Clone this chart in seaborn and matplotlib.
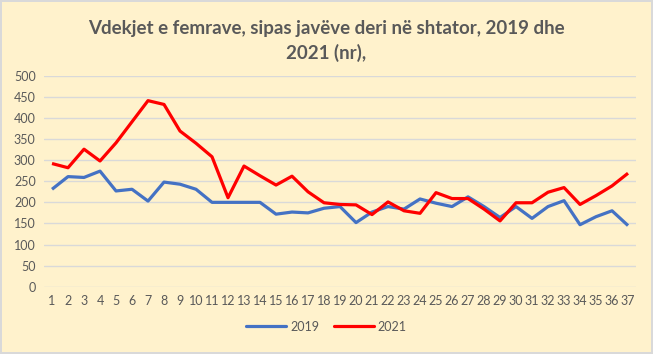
import matplotlib
matplotlib.use("Agg")
import matplotlib.pyplot as plt
import seaborn as sns
import pandas as pd

weeks = list(range(1, 38))
deaths_2019 = [231, 261, 259, 274, 227, 231, 203, 248, 243, 231, 200,
               200, 200, 200, 172, 177, 175, 186, 190, 152, 177, 190, 184,
               208, 198, 190, 213, 190, 164, 190, 162, 190, 204, 147, 166, 180, 145]
deaths_2021 = [292, 282, 326, 298, 341, 391, 441, 432, 369, 340, 308,
               211, 286, 263, 241, 262, 225, 199, 195, 194, 171, 201, 180,
               174, 223, 209, 209, 184, 156, 199, 199, 224, 235, 195, 216, 239, 269]
years = ["2019", "2021"]
colors = ["#4472C4", "#FF0000"]
title = "Vdekjet e femrave, sipas javëve deri në shtator, 2019 dhe\n2021 (nr),"

df = pd.concat([
    pd.DataFrame({"week": weeks, "value": deaths_2019, "year": years[0]}),
    pd.DataFrame({"week": weeks, "value": deaths_2021, "year": years[1]}),
])

sns.set_theme(style="white")
plt.rcParams["font.family"] = ["Lato", "DejaVu Sans"]

bg = "#FFF2CC"
txt = "#595959"
fig = plt.figure(figsize=(6.53, 3.54), dpi=100, facecolor=bg)
fig.patch.set_edgecolor("#D9D9D9")
fig.patch.set_linewidth(1.5)
ax = fig.add_axes([0.0674, 0.190, 0.9066, 0.596])
ax.set_facecolor(bg)

sns.lineplot(data=df, x="week", y="value", hue="year", palette=colors,
             linewidth=2.3, ax=ax, legend=False)

ax.set_xlim(0.5, 37.5)
ax.set_ylim(0, 500)
ax.set_xticks(weeks)
ax.set_xticklabels([str(w) for w in weeks])
ax.set_yticks(range(0, 501, 50))
ax.tick_params(axis="both", colors=txt, labelsize=9, length=0, pad=6)
ax.grid(axis="y", color="#D9D9D9", linewidth=1)
ax.grid(axis="x", visible=False)
for s in ax.spines.values():
    s.set_visible(False)
ax.set_xlabel("")
ax.set_ylabel("")
for line in ax.lines:
    line.set_clip_on(False)
    line.set_solid_joinstyle("round")
    line.set_solid_capstyle("butt")

fig.text(0.5, 0.943, title, ha="center", va="top", fontsize=13.5,
         fontweight="bold", color=txt, linespacing=1.45)

from matplotlib.lines import Line2D
handles = [Line2D([0], [0], color=c, linewidth=2.3) for c in colors]
fig.legend(handles, years, loc="center", bbox_to_anchor=(0.5, 0.077), ncol=2,
           frameon=False, fontsize=9, labelcolor=txt, handlelength=3.2,
           handletextpad=0.3, columnspacing=1.2)

fig.savefig("out.png", dpi=100, facecolor=bg, edgecolor="#D9D9D9")
